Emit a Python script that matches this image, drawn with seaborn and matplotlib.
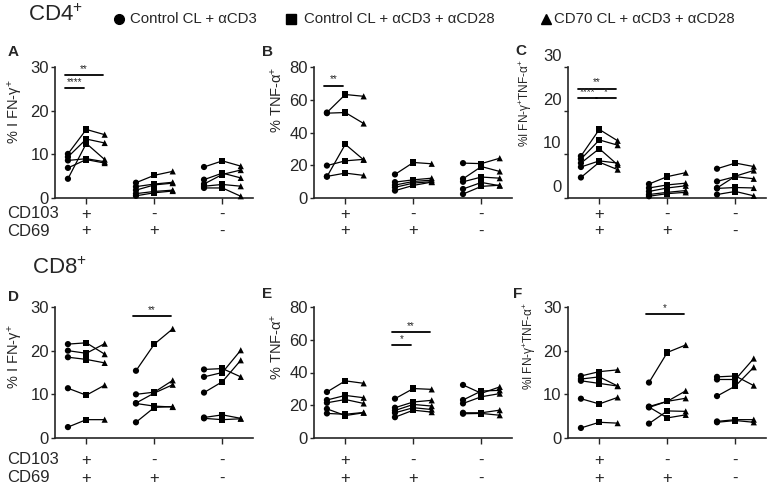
import matplotlib
matplotlib.use('Agg')
import matplotlib.pyplot as plt
import matplotlib.transforms as mtransforms
from matplotlib.lines import Line2D
import seaborn as sns
import pandas as pd

# values: [group][donor], groups = CD103+CD69+, CD103-CD69+, CD103-CD69-
A_ctrl = [[10.1, 9.4, 8.6, 6.9, 4.4], [3.5, 2.6, 1.8, 1.0, 0.5], [7.1, 4.2, 3.2, 2.7, 2.3]]
A_cd28 = [[15.7, 13.5, 9.0, 8.8, 12.5], [5.2, 3.2, 3.0, 1.5, 1.2], [8.5, 5.7, 5.4, 3.1, 2.3]]
A_cd70 = [[14.5, 12.6, 8.3, 8.0, 8.8], [6.1, 3.6, 3.4, 1.8, 1.6], [7.3, 4.6, 6.4, 2.7, 0.4]]

B_ctrl = [[52.2, 51.8, 13.0, 19.8, 13.2], [14.4, 9.7, 7.9, 6.5, 4.5], [21.3, 11.7, 9.9, 5.5, 2.4]]
B_cd28 = [[63.2, 52.2, 32.8, 22.7, 15.2], [21.7, 11.1, 10.1, 9.1, 7.7], [21.0, 19.2, 12.8, 9.5, 7.1]]
B_cd70 = [[62.1, 45.5, 23.3, 23.6, 13.8], [20.9, 12.1, 10.9, 10.0, 9.7], [24.3, 16.2, 12.1, 7.5, 7.8]]

C_ctrl = [[9.6, 8.9, 8.0, 7.1, 4.7], [3.2, 2.3, 1.5, 0.8, 0.4], [6.7, 3.8, 2.3, 2.2, 0.8]]
C_cd28 = [[15.7, 13.3, 11.3, 8.5, 8.2], [4.9, 3.0, 2.3, 1.3, 1.0], [8.0, 4.9, 5.0, 2.4, 1.5]]
C_cd70 = [[13.1, 12.1, 7.6, 8.0, 6.5], [5.8, 3.4, 2.8, 1.7, 1.3], [7.2, 4.4, 6.3, 2.3, 0.5]]

D_ctrl = [[21.5, 20.0, 18.5, 11.4, 2.5], [15.4, 10.0, 8.0, 7.9, 3.6], [15.7, 14.0, 10.4, 4.7, 4.5]]
D_cd28 = [[21.8, 19.4, 18.0, 9.8, 4.2], [21.5, 10.5, 10.3, 7.3, 7.0], [15.9, 15.0, 12.9, 5.3, 4.2]]
D_cd70 = [[19.2, 21.6, 17.2, 12.1, 4.2], [25.0, 13.2, 12.2, 7.1, 7.2], [14.0, 20.1, 17.8, 4.5, 4.4]]

E_ctrl = [[28.1, 23.2, 21.5, 17.8, 15.0], [24.0, 18.5, 16.8, 15.4, 12.7], [32.4, 23.2, 21.1, 15.4, 14.8]]
E_cd28 = [[34.9, 26.0, 23.5, 13.7, 14.5], [30.2, 22.0, 20.5, 18.5, 17.0], [27.3, 28.7, 25.2, 15.4, 15.0]]
E_cd70 = [[33.4, 24.6, 21.1, 15.4, 15.6], [29.7, 23.0, 19.5, 17.4, 15.8], [31.2, 29.1, 27.1, 17.0, 13.9]]

F_ctrl = [[14.2, 13.5, 13.1, 9.0, 2.3], [12.7, 7.2, 7.0, 7.1, 3.3], [14.0, 13.4, 9.6, 3.8, 3.6]]
F_cd28 = [[15.2, 14.0, 12.5, 7.8, 3.6], [19.6, 8.4, 8.4, 4.6, 6.2], [14.2, 13.4, 11.9, 4.2, 4.0]]
F_cd70 = [[15.6, 11.9, 11.9, 9.3, 3.4], [21.3, 10.8, 9.1, 5.3, 6.1], [12.0, 18.2, 16.2, 4.2, 3.6]]

# significance bars: (group, from condition, to condition, height, stars)
A_sig = [(0, 0, 2, 28.1, '**'), (0, 0, 1, 25.2, '****')]
B_sig = [(0, 0, 1, 68.6, '**')]
C_sig = [(0, 0, 2, 25.0, '**'), (0, 0, 1, 22.9, '****'), (0, 1, 2, 22.9, '*')]
D_sig = [(1, 0, 2, 27.9, '**')]
E_sig = [(1, 0, 2, 64.6, '**'), (1, 0, 1, 56.8, '*')]
F_sig = [(1, 0, 2, 28.3, '*')]

conditions = ['Control CL + αCD3', 'Control CL + αCD3 + αCD28', 'CD70 CL + αCD3 + αCD28']
markers = ['o', 's', '^']
offsets = [-0.27, 0.0, 0.27]
cd103_signs = ['+', '-', '-']
cd69_signs = ['+', '+', '-']

sns.set_style('ticks')
plt.rcParams['font.family'] = ['Liberation Sans', 'DejaVu Sans']
plt.rcParams['mathtext.fontset'] = 'custom'
plt.rcParams['mathtext.rm'] = 'Liberation Sans'
plt.rcParams['mathtext.default'] = 'regular'

W, H = 773, 488
TXT = '#262626'
fig = plt.figure(figsize=(W / 100, H / 100), dpi=100)


def px_axes(left, top, width, height):
    return fig.add_axes([left / W, 1 - (top + height) / H, width / W, height / H])


def make_frame(ctrl, cd28, cd70):
    rows = []
    for k, vals in enumerate([ctrl, cd28, cd70]):
        for g, grp in enumerate(vals):
            for d, v in enumerate(grp):
                rows.append({'x': g + offsets[k], 'value': v, 'cond': conditions[k], 'line': g * 10 + d})
    return pd.DataFrame(rows)


def draw_panel(ax, df, ymax, ystep, ylabel, label_size, label_xy, sig, sign_rows):
    sns.lineplot(data=df, x='x', y='value', units='line', estimator=None, color='black',
                 lw=0.9, ax=ax, legend=False)
    sns.scatterplot(data=df, x='x', y='value', style='cond', markers=dict(zip(conditions, markers)),
                    color='black', s=20, linewidth=0, ax=ax, legend=False, clip_on=False, zorder=3)
    ax.set_xlim(-0.46, 2.45)
    ax.set_ylim(0, ymax)
    ax.set_xticks([0, 1, 2])
    ax.set_xticklabels([])
    ax.set_yticks(range(0, ymax + 1, ystep))
    sns.despine(ax=ax)
    for s in ['left', 'bottom']:
        ax.spines[s].set_linewidth(1.2)
    ax.tick_params(axis='y', length=3, width=1, labelsize=12, labelcolor=TXT, pad=1.5)
    ax.tick_params(axis='x', length=4, width=1)
    ax.set_xlabel('')
    ax.set_ylabel(ylabel, fontsize=label_size, color=TXT)
    ax.yaxis.set_label_coords(*label_xy)
    for g, k1, k2, y, stars in sig:
        x1 = g + offsets[k1] - 0.05
        x2 = g + offsets[k2] - 0.03
        ax.plot([x1, x2], [y, y], color='black', lw=1.3, clip_on=False)
        ax.text((x1 + x2) / 2, y + ymax * 0.01, stars, ha='center', va='bottom', fontsize=7)
    tr = mtransforms.blended_transform_factory(ax.transData, fig.transFigure)
    for g in range(3):
        fig.text(g, 1 - sign_rows[0] / H, cd103_signs[g], transform=tr, ha='center', va='center',
                 fontsize=12, color=TXT)
        fig.text(g, 1 - sign_rows[1] / H, cd69_signs[g], transform=tr, ha='center', va='center',
                 fontsize=12, color=TXT)


axA = px_axes(55, 67, 198, 131)
axB = px_axes(314, 67, 198, 131)
axC = px_axes(568, 67, 198, 131)
axD = px_axes(55, 307, 198, 131)
axE = px_axes(314, 307, 198, 131)
axF = px_axes(568, 307, 198, 131)

ifn = '% I FN-γ$^{+}$'
tnf = '% TNF-α$^{+}$'
dbl = '%I FN-γ$^{+}$TNF-α$^{+}$'
top_rows = (214, 231)
bot_rows = (460, 478)
draw_panel(axA, make_frame(A_ctrl, A_cd28, A_cd70), 30, 10, ifn, 10.5, (-0.15, 0.66), A_sig, top_rows)
draw_panel(axB, make_frame(B_ctrl, B_cd28, B_cd70), 80, 20, tnf, 10.5, (-0.15, 0.75), B_sig, top_rows)
draw_panel(axC, make_frame(C_ctrl, C_cd28, C_cd70), 30, 10, dbl, 8.5, (-0.17, 0.725), C_sig, top_rows)
draw_panel(axD, make_frame(D_ctrl, D_cd28, D_cd70), 30, 10, ifn, 10.5, (-0.15, 0.62), D_sig, bot_rows)
draw_panel(axE, make_frame(E_ctrl, E_cd28, E_cd70), 80, 20, tnf, 10.5, (-0.15, 0.70), E_sig, bot_rows)
draw_panel(axF, make_frame(F_ctrl, F_cd28, F_cd70), 30, 10, dbl, 8.5, (-0.15, 0.70), F_sig, bot_rows)

# panel C tick labels sit a bit above their ticks in the original
shift = mtransforms.ScaledTranslation(0, 12 / 100, fig.dpi_scale_trans)
for lab in axC.get_yticklabels():
    lab.set_transform(lab.get_transform() + shift)

# row labels
for rows in (top_rows, bot_rows):
    fig.text(7 / W, 1 - rows[0] / H, 'CD103', fontsize=12, va='center', color=TXT)
    fig.text(7 / W, 1 - rows[1] / H, 'CD69', fontsize=12, va='center', color=TXT)

# panel letters and titles
for letter, x, y in [('A', 8, 52), ('B', 262, 52), ('C', 515, 51), ('D', 8, 297), ('E', 262, 294), ('F', 513, 294)]:
    fig.text(x / W, 1 - y / H, letter, fontsize=11, fontweight='bold', va='center')
fig.text(28 / W, 1 - 15 / H, 'CD4$^{+}$', fontsize=16, va='center', color=TXT)
fig.text(32 / W, 1 - 268 / H, 'CD8$^{+}$', fontsize=16, va='center', color=TXT)

# legend across the top
for m, mx, tx, txt in zip(markers, [119, 291, 546], [130, 304, 554], conditions):
    fig.add_artist(Line2D([mx / W], [1 - 19 / H], marker=m, color='black', markersize=7,
                          linestyle='none', transform=fig.transFigure))
    fig.text(tx / W, 1 - 19 / H, txt, fontsize=10.8, va='center', color=TXT)

fig.savefig('out.png', dpi=100)
